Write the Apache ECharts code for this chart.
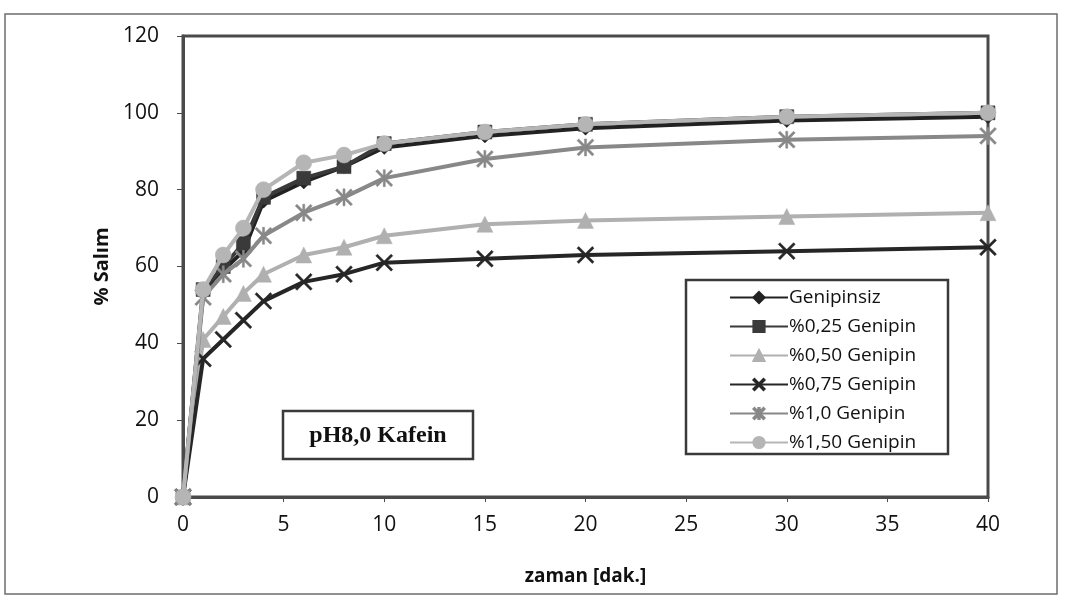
<!DOCTYPE html>
<html>
<head>
<meta charset="utf-8">
<script src="https://cdn.jsdelivr.net/npm/echarts@6/dist/echarts.min.js"></script>
<style>
  html, body { margin: 0; padding: 0; background: #fff; }
  #chart { width: 1069px; height: 599px; }
</style>
</head>
<body>
<div id="chart"></div>
<script>
// Release time points (minutes)
const zaman = [0, 1, 2, 3, 4, 6, 8, 10, 15, 20, 30, 40];

// Cumulative release (%) for each genipin ratio
const genipinsiz   = [0, 53, 59, 64, 77, 82, 86, 91, 94, 96, 98, 99];
const genipin025   = [0, 54, 60, 66, 78, 83, 86, 92, 95, 97, 99, 100];
const genipin050   = [0, 41, 47, 53, 58, 63, 65, 68, 71, 72, 73, 74];
const genipin075   = [0, 36, 41, 46, 51, 56, 58, 61, 62, 63, 64, 65];
const genipin100   = [0, 52, 58, 62, 68, 74, 78, 83, 88, 91, 93, 94];
const genipin150   = [0, 54, 63, 70, 80, 87, 89, 92, 95, 97, 99, 100];

const seriesNames = ['Genipinsiz', '%0,25 Genipin', '%0,50 Genipin', '%0,75 Genipin', '%1,0 Genipin', '%1,50 Genipin'];

const xTicks = { min: 0, max: 40, interval: 5 };
const yTicks = { min: 0, max: 120, interval: 20 };

const crossPath = 'path://M1,0 L5,4 L9,0 L10,1 L6,5 L10,9 L9,10 L5,6 L1,10 L0,9 L4,5 L0,1 Z';
const starPath = 'path://M1,0 L5,4 L9,0 L10,1 L6,5 L10,9 L9,10 L5,6 L1,10 L0,9 L4,5 L0,1 Z M4.4,0 L5.6,0 L5.6,10 L4.4,10 Z';

const styles = [
  { values: genipinsiz, color: '#222222', symbol: 'diamond', size: 14 },
  { values: genipin025, color: '#3a3a3a', symbol: 'rect', size: 14 },
  { values: genipin050, color: '#b0b0b0', symbol: 'triangle', size: 16 },
  { values: genipin075, color: '#262626', symbol: crossPath, size: 17 },
  { values: genipin100, color: '#888888', symbol: starPath, size: 17 },
  { values: genipin150, color: '#b5b5b5', symbol: 'circle', size: 16 }
];

const series = styles.map((s, i) => ({
  name: seriesNames[i],
  type: 'line',
  data: zaman.map((t, k) => [t, s.values[k]]),
  symbol: s.symbol,
  symbolSize: s.size,
  showAllSymbol: true,
  lineStyle: { color: s.color, width: 4 },
  itemStyle: { color: s.color, borderColor: s.color, borderWidth: 0.5 },
  z: 2 + i,
  animation: false
}));

const chart = echarts.init(document.getElementById('chart'), null, { renderer: 'canvas' });

chart.setOption({
  backgroundColor: '#ffffff',
  animation: false,
  grid: {
    left: 183, right: 81, top: 36, bottom: 102,
    show: true, borderColor: '#4a4a4a', borderWidth: 3, backgroundColor: 'transparent'
  },
  xAxis: {
    type: 'value',
    min: xTicks.min, max: xTicks.max, interval: xTicks.interval,
    name: 'zaman [dak.]',
    nameLocation: 'middle',
    nameGap: 70,
    nameTextStyle: { fontFamily: 'Open Sans', fontWeight: 'bold', fontSize: 19, color: '#111' },
    axisLine: { show: true, lineStyle: { color: '#4a4a4a', width: 3 } },
    axisTick: { show: true, length: 5, lineStyle: { color: '#4a4a4a', width: 1 } },
    axisLabel: { margin: 18, fontFamily: 'Open Sans', fontSize: 21, color: '#111' },
    splitLine: { show: false }
  },
  yAxis: {
    type: 'value',
    min: yTicks.min, max: yTicks.max, interval: yTicks.interval,
    name: '% Salım',
    nameLocation: 'middle',
    nameGap: 66,
    nameTextStyle: { fontFamily: 'Open Sans', fontWeight: 'bold', fontSize: 20, color: '#111' },
    axisLine: { show: true, lineStyle: { color: '#4a4a4a', width: 3 } },
    axisTick: { show: true, length: 6, lineStyle: { color: '#4a4a4a', width: 1 } },
    axisLabel: { margin: 24, fontFamily: 'Open Sans', fontSize: 21, color: '#111' },
    splitLine: { show: false }
  },
  legend: {
    orient: 'vertical',
    left: 724,
    top: 283,
    itemWidth: 58,
    itemHeight: 14,
    itemGap: 10,
    textStyle: { fontFamily: 'Open Sans', fontSize: 19, color: '#111', lineHeight: 18, padding: [0, 0, 0, -4] },
    data: seriesNames
  },
  graphic: [
    {
      type: 'rect', silent: true, z: -1,
      shape: { x: 5, y: 14, width: 1052, height: 580 },
      style: { fill: 'none', stroke: '#6e6e6e', lineWidth: 1.5 }
    },
    {
      type: 'rect', silent: true, z: 1,
      shape: { x: 686, y: 280, width: 262, height: 174 },
      style: { fill: '#fff', stroke: '#3a3a3a', lineWidth: 2.5 }
    },
    {
      type: 'group', z: 10,
      children: [
        {
          type: 'rect',
          shape: { x: 283, y: 411, width: 190, height: 48 },
          style: { fill: '#fff', stroke: '#3a3a3a', lineWidth: 2.5 }
        },
        {
          type: 'text',
          style: {
            x: 378, y: 436, text: 'pH8,0 Kafein',
            font: 'bold 24px "Liberation Serif", "DejaVu Serif", serif',
            fill: '#111', textAlign: 'center', textVerticalAlign: 'middle'
          }
        }
      ]
    }
  ],
  series: series
});
</script>
</body>
</html>
